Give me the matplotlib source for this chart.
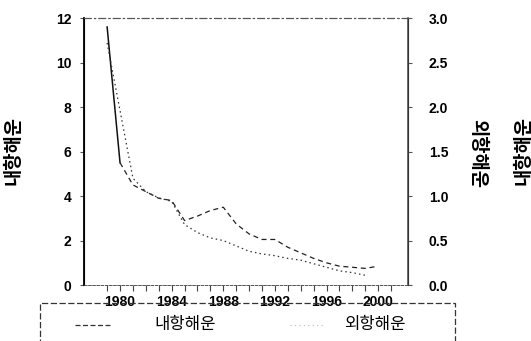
import matplotlib
matplotlib.use("Agg")
import matplotlib.pyplot as plt
from matplotlib.lines import Line2D
from matplotlib.patches import Rectangle

plt.rcParams['font.family'] = ['Liberation Sans', 'Noto Sans CJK KR', 'DejaVu Sans']

# data
years_in = list(range(1979, 2001))
inland = [11.6, 5.5, 4.5, 4.2, 3.9, 3.8, 2.9, 3.1, 3.35, 3.5, 2.75, 2.3,
          2.05, 2.05, 1.7, 1.45, 1.2, 1.0, 0.85, 0.8, 0.75, 0.85]
years_out = list(range(1979, 2000))
ocean = [2.72, 1.96, 1.2, 1.05, 0.98, 0.94, 0.68, 0.59, 0.53, 0.5, 0.44,
         0.38, 0.35, 0.33, 0.3, 0.28, 0.24, 0.2, 0.16, 0.14, 0.11]
xtick_years = [1980, 1984, 1988, 1992, 1996, 2000]
left_ticks = [0, 2, 4, 6, 8, 10, 12]
right_ticks = [0.0, 0.5, 1.0, 1.5, 2.0, 2.5, 3.0]

fig = plt.figure(figsize=(5.31, 3.41), dpi=100)
ax = fig.add_axes([0.158, 0.164, 0.61, 0.783])
ax2 = ax.twinx()

# first stretch of the inland series is drawn solid in the original
ax.plot(years_in[:2], inland[:2], color='#111111', lw=1.1)
ax.plot(years_in[1:], inland[1:], color='#222222', lw=0.9, linestyle=(0, (4, 3)))
ax2.plot(years_out, ocean, color='#333333', lw=0.9, linestyle=(0, (1.2, 2.5)))

ax.set_xlim(1977.2, 2002.3)
ax.set_ylim(0, 12)
ax2.set_ylim(0, 3.0)

ax.set_xticks(range(1979, 2002), minor=True)
ax.set_xticks(xtick_years)
ax.set_xticklabels([str(y) for y in xtick_years], fontsize=10, fontweight='bold')
ax.tick_params(axis='x', which='both', direction='out', length=4, width=0.8, color='#444444')
ax.set_yticks(left_ticks)
ax.set_yticklabels([str(v) for v in left_ticks], fontsize=10, fontweight='bold')
ax.tick_params(axis='y', direction='out', length=3, width=0.8, color='#555555', pad=6)
ax2.set_yticks(right_ticks)
ax2.set_yticklabels(['%.1f' % v for v in right_ticks], fontsize=10, fontweight='bold')
ax2.tick_params(axis='y', direction='out', length=3, width=0.8, color='#555555', pad=12)

for a in (ax, ax2):
    a.spines['top'].set_linestyle((0, (6, 3, 1, 3)))
    a.spines['top'].set_color('#555555')
    a.spines['top'].set_linewidth(0.8)
    a.spines['bottom'].set_color('#555555')
    a.spines['bottom'].set_linewidth(0.6)
    a.spines['bottom'].set_linestyle((0, (3, 2)))
ax.spines['left'].set_linewidth(1.3)
ax2.spines['right'].set_color('#444444')
ax2.spines['right'].set_linewidth(1.1)

fig.text(0.024, 0.56, '내항해운', rotation=90, fontsize=13.5, fontweight='bold',
         family=['Noto Sans CJK KR'], ha='center', va='center')
fig.text(0.9, 0.55, '외항해운', rotation=270, fontsize=13.5, fontweight='bold',
         family=['Noto Sans CJK KR'], ha='center', va='center')
fig.text(0.985, 0.56, '내항해운', rotation=90, fontsize=13.5, fontweight='bold',
         family=['Noto Sans CJK KR'], ha='center', va='center')

# legend box, bottom cut off by the figure edge
fig.patches.append(Rectangle((40 / 531, -0.05), 415 / 531, 0.05 + (341 - 303) / 341,
                             transform=fig.transFigure, fill=False, lw=0.9,
                             edgecolor='#333333', linestyle=(0, (5, 2))))
fig.lines.append(Line2D([75 / 531, 110 / 531], [1 - 325 / 341] * 2, transform=fig.transFigure,
                        color='#333333', lw=0.9, linestyle=(0, (4, 2))))
fig.lines.append(Line2D([290 / 531, 325 / 531], [1 - 325 / 341] * 2, transform=fig.transFigure,
                        color='#bbbbbb', lw=0.8, linestyle=(0, (1, 3))))
fig.text(185 / 531, 1 - 325 / 341, '내항해운', fontsize=12, family=['Noto Sans CJK KR'],
         ha='center', va='center')
fig.text(375 / 531, 1 - 325 / 341, '외항해운', fontsize=12, family=['Noto Sans CJK KR'],
         ha='center', va='center')

fig.savefig('out.png', dpi=100)
